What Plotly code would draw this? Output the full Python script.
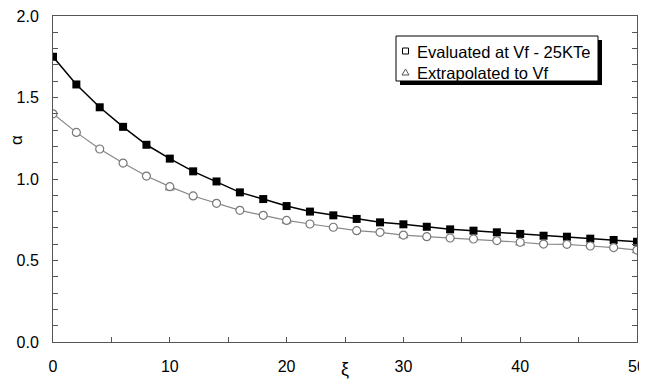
import plotly.graph_objects as go

xi = [0, 2, 4, 6, 8, 10, 12, 14, 16, 18, 20, 22, 24, 26, 28, 30, 32, 34, 36, 38, 40, 42, 44, 46, 48, 50]
evaluated = [1.75, 1.58, 1.44, 1.32, 1.21, 1.125, 1.047, 0.985, 0.918, 0.877, 0.834, 0.80, 0.777, 0.755,
             0.734, 0.722, 0.707, 0.691, 0.683, 0.673, 0.663, 0.652, 0.646, 0.634, 0.626, 0.615]
extrap_circ = [1.40, 1.286, 1.184, 1.098, 1.018, 0.953, 0.896, 0.851, 0.808, 0.777, 0.746, 0.724, 0.704,
               0.683, 0.673, 0.656, 0.646, 0.638, 0.632, 0.622, 0.612, 0.601, 0.599, 0.589, 0.579, 0.564]
xi_tri = [10, 20, 30, 40, 50]
extrap_tri = [0.945, 0.742, 0.652, 0.607, 0.560]
legend_names = ["Evaluated at Vf - 25KTe", "Extrapolated to Vf"]
x_ticks = [0, 10, 20, 30, 40, 50]
y_ticks = [0, 0.5, 1.0, 1.5, 2.0]
y_ticktext = ["0.0", "0.5", "1.0", "1.5", "2.0"]

fig = go.Figure()
fig.add_trace(go.Scatter(x=xi, y=evaluated, mode="lines+markers", name=legend_names[0], showlegend=False,
                         line=dict(color="black", width=1.5),
                         marker=dict(symbol="square", size=8, color="black")))
fig.add_trace(go.Scatter(x=xi_tri, y=extrap_tri, mode="markers", name=legend_names[1], showlegend=False,
                         marker=dict(symbol="triangle-up-open", size=8, color="#888888")))
fig.add_trace(go.Scatter(x=xi, y=extrap_circ, mode="lines+markers", name=legend_names[1], showlegend=False,
                         line=dict(color="#888888", width=1.2),
                         marker=dict(symbol="circle", size=8, color="white",
                                     line=dict(color="#777777", width=1.2))))

# page has an 8px body margin; figure sized so the plot area lands where the reference has it
W, H = 639, 371
PL, PR, PT, PB = 53, 637, 16, 342          # plot area in page pixels
ml, mr, mt, mb = PL - 8, (W + 8) - PR, PT - 8, (H + 8) - PB
pw, ph = PR - PL, PB - PT

def px(x):
    return (x - PL) / pw

def py(y):
    return (PB - y) / ph

shapes = []
# legend shadow + box
shapes.append(dict(type="rect", xref="paper", yref="paper", x0=px(400), x1=px(602), y0=py(85), y1=py(40),
                   fillcolor="black", line=dict(width=0), layer="above"))
shapes.append(dict(type="rect", xref="paper", yref="paper", x0=px(396), x1=px(598), y0=py(81), y1=py(36),
                   fillcolor="white", line=dict(width=1, color="black"), layer="above"))
# legend symbols
shapes.append(dict(type="rect", xref="paper", yref="paper", x0=px(402.5), x1=px(408.5), y0=py(54), y1=py(48),
                   fillcolor="white", line=dict(width=1, color="black"), layer="above"))
tx0, tx1, txm = px(402), px(409), px(405.5)
ty0, ty1 = py(75), py(69)
shapes.append(dict(type="path", xref="paper", yref="paper",
                   path=f"M {tx0},{ty0} L {tx1},{ty0} L {txm},{ty1} Z",
                   fillcolor="white", line=dict(width=1, color="#555555"), layer="above"))

annotations = [
    dict(text=legend_names[0], xref="paper", yref="paper", x=px(415), y=py(51.5), xanchor="left",
         yanchor="middle", showarrow=False, font=dict(size=16.5, color="black")),
    dict(text=legend_names[1], xref="paper", yref="paper", x=px(415), y=py(72.5), xanchor="left",
         yanchor="middle", showarrow=False, font=dict(size=16.5, color="black")),
    dict(text="α", xref="paper", yref="paper", x=px(16), y=py(140), xanchor="center", yanchor="middle",
         textangle=-90, showarrow=False, font=dict(size=17, color="black")),
    dict(text="ξ", xref="paper", yref="paper", x=px(345), y=py(369), xanchor="center", yanchor="middle",
         showarrow=False, font=dict(size=18, color="black")),
]

fig.update_layout(
    width=W, height=H, margin=dict(l=ml, r=mr, t=mt, b=mb, pad=0),
    plot_bgcolor="white", paper_bgcolor="white",
    font=dict(family="Arial, Liberation Sans, sans-serif", size=16, color="black"),
    showlegend=False, shapes=shapes, annotations=annotations,
    xaxis=dict(range=[0, 50], tickvals=x_ticks, ticks="inside", ticklen=5,
               tickcolor="#555555", showline=True, linecolor="#555555", linewidth=1, mirror=True,
               showgrid=False, zeroline=False, ticklabelstandoff=10, automargin=False,
               ticklabeloverflow="allow",
               minor=dict(tickvals=[5, 15, 25, 35, 45], ticks="inside", ticklen=5, tickcolor="#555555")),
    yaxis=dict(range=[0, 2.0], tickvals=y_ticks, ticktext=y_ticktext,
               ticks="inside", ticklen=5, tickcolor="#555555", showline=True, linecolor="#555555",
               linewidth=1, mirror="ticks", showgrid=False, zeroline=False, ticklabelstandoff=10,
               automargin=False, ticklabeloverflow="allow",
               minor=dict(dtick=0.1, ticks="inside", ticklen=5, tickcolor="#555555")),
)

fig.write_html("out.html")
